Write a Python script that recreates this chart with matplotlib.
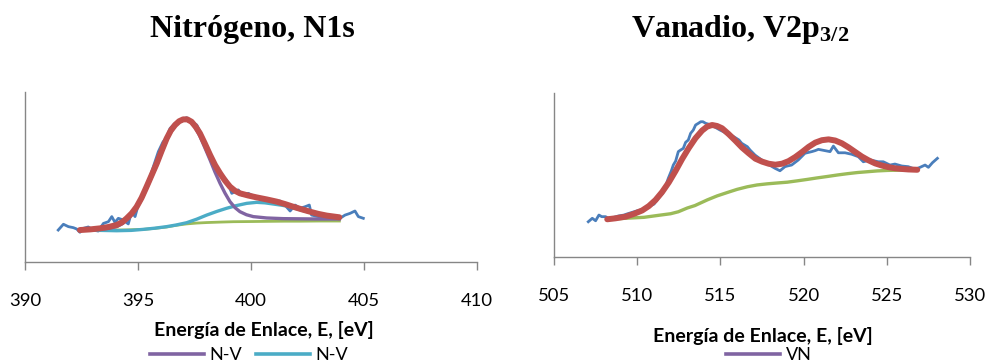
import matplotlib
matplotlib.use("Agg")
import matplotlib.pyplot as plt
from matplotlib.lines import Line2D

plt.rcParams["font.family"] = ["Lato", "DejaVu Sans"]
plt.rcParams["mathtext.fontset"] = "custom"
plt.rcParams["mathtext.rm"] = "Liberation Serif"
plt.rcParams["mathtext.bf"] = "Liberation Serif:bold"

# ---------------- N1s spectrum (binding energy in eV, intensity a.u.) ----------------
n_raw_E = [391.47, 391.70, 391.92, 392.14, 392.29, 392.43, 392.58, 392.80, 393.02, 393.24,
           393.47, 393.69, 393.84, 393.98, 394.13, 394.35, 394.57, 394.72, 394.87, 395.01,
           395.23, 395.46, 395.68, 395.90, 396.10, 396.27, 396.42, 396.64, 396.93, 397.15,
           397.37, 397.60, 397.96, 398.33, 398.63, 398.92, 399.15, 399.44, 399.59, 399.88,
           400.18, 400.47, 400.84, 401.28, 401.50, 401.73, 401.95, 402.17, 402.39, 402.58,
           402.68, 402.98, 403.35, 403.64, 403.94, 404.16, 404.38, 404.60, 404.75, 404.97]
n_raw_I = [18.8, 22.2, 20.8, 20.2, 19.4, 17.5, 19.8, 20.6, 18.8, 18.2,
           22.7, 23.7, 26.7, 23.3, 25.7, 24.7, 22.4, 29.6, 26.7, 33.5,
           40.4, 47.2, 56.1, 64.9, 70.5, 73.5, 78.6, 81.6, 83.5, 84.9,
           82.5, 80.6, 70.8, 60.0, 52.2, 48.2, 40.4, 42.4, 39.4, 40.4,
           38.4, 36.5, 35.5, 35.9, 33.5, 30.0, 33.5, 31.6, 32.5, 33.5,
           27.6, 26.7, 26.7, 24.7, 25.7, 27.6, 28.6, 30.0, 26.7, 25.7]

n_fit_E = [392.43, 392.90, 393.32, 393.70, 394.06, 394.30, 394.50, 394.72, 394.94, 395.16,
           395.38, 395.60, 395.83, 396.05, 396.27, 396.45, 396.64, 396.82, 397.00, 397.18,
           397.37, 397.55, 397.74, 397.96, 398.19, 398.41, 398.63, 398.85, 399.07, 399.29,
           399.51, 399.88, 400.25, 400.70, 401.14, 401.50, 401.87, 402.24, 402.61, 402.98,
           403.35, 403.91]
n_fit_I = [18.8, 19.2, 19.8, 20.6, 21.8, 23.4, 25.7, 28.6, 32.5, 37.8,
           44.3, 51.0, 58.0, 65.5, 72.7, 77.3, 80.6, 82.8, 83.9, 83.9,
           82.5, 79.6, 75.7, 69.6, 62.9, 57.0, 52.2, 47.9, 44.3, 41.9,
           40.4, 39.1, 38.0, 36.8, 35.5, 34.1, 32.5, 31.0, 29.6, 28.3,
           27.3, 26.3]

n_comp1_E = [392.43, 393.32, 393.70, 394.06, 394.30, 394.50, 394.72, 394.94, 395.16, 395.38,
             395.60, 395.83, 396.05, 396.27, 396.45, 396.64, 396.82, 397.00, 397.18, 397.37,
             397.55, 397.74, 397.96, 398.19, 398.41, 398.63, 398.85, 399.07, 399.29, 399.51,
             399.80, 400.10, 400.69, 401.43, 402.90, 403.91]
n_comp1_I = [18.8, 19.2, 19.8, 20.8, 22.5, 24.7, 27.8, 31.6, 37.0, 43.3,
             50.0, 57.0, 64.5, 71.7, 76.3, 80.0, 82.3, 83.5, 83.4, 82.0,
             78.6, 74.0, 67.2, 60.0, 52.8, 46.3, 40.5, 35.5, 32.0, 29.6,
             27.8, 26.7, 25.9, 25.5, 25.3, 25.3]

n_comp2_E = [392.43, 393.30, 394.06, 394.70, 395.24, 395.75, 396.27, 396.70, 397.15, 397.60,
             398.04, 398.50, 398.92, 399.36, 399.81, 400.25, 400.62, 400.99, 401.36, 401.73,
             402.20, 402.61, 402.98, 403.35, 403.91]
n_comp2_I = [18.8, 18.6, 18.4, 18.6, 19.2, 19.9, 20.8, 21.8, 23.1, 25.2,
             27.6, 29.8, 31.6, 33.2, 34.5, 35.1, 34.8, 34.1, 33.4, 32.5,
             30.6, 29.2, 28.0, 27.0, 26.0]

n_bg_E = [392.43, 393.50, 394.50, 395.24, 395.75, 396.27, 396.70, 397.15, 397.60, 398.04,
          398.70, 399.22, 400.00, 400.69, 401.50, 402.17, 403.00, 403.91]
n_bg_I = [18.8, 18.8, 18.9, 19.2, 19.8, 20.6, 21.6, 22.4, 22.9, 23.2,
          23.5, 23.7, 23.8, 23.9, 24.0, 24.0, 24.1, 24.1]

# ---------------- V2p3/2 spectrum ----------------
v_raw_E = [507.06, 507.30, 507.50, 507.70, 507.87, 508.10, 508.26, 508.61, 508.86, 509.21,
           509.37, 509.81, 510.10, 510.41, 510.87, 511.01, 511.27, 511.51, 511.70, 511.87,
           512.05, 512.17, 512.31, 512.47, 512.61, 512.77, 512.91, 513.07, 513.21, 513.37,
           513.51, 513.67, 513.82, 513.95, 514.12, 514.33, 514.62, 514.98, 515.22, 515.48,
           515.62, 516.12, 516.28, 516.62, 516.78, 517.08, 517.48, 517.88, 518.28, 518.58,
           518.88, 519.02, 519.28, 519.68, 520.08, 520.49, 520.69, 520.89, 521.29, 521.59,
           521.79, 522.09, 522.49, 522.89, 523.29, 523.59, 524.00, 524.49, 524.79, 525.19,
           525.49, 525.90, 526.29, 526.70, 527.00, 527.30, 527.50, 527.74, 528.04]
v_raw_I = [21.4, 23.5, 22.0, 25.5, 24.5, 24.5, 23.5, 24.1, 24.9, 25.5,
           26.1, 27.5, 28.4, 28.9, 31.6, 32.2, 35.7, 38.5, 43.0, 48.0,
           52.5, 56.1, 58.5, 64.3, 65.3, 66.3, 70.0, 71.4, 75.5, 77.5,
           80.6, 81.6, 82.6, 82.6, 81.6, 81.0, 79.6, 77.5, 76.3, 74.5,
           74.6, 71.4, 69.4, 67.3, 65.3, 62.2, 59.2, 56.5, 54.1, 52.6,
           55.1, 55.5, 56.1, 59.2, 63.3, 64.3, 64.9, 65.7, 64.9, 64.3,
           67.7, 63.6, 63.6, 62.7, 61.2, 58.1, 59.2, 58.1, 58.1, 56.1,
           56.7, 55.5, 55.1, 53.5, 54.7, 56.1, 54.7, 57.5, 60.2]

v_fit_E = [508.2, 508.7, 509.3, 509.8, 510.3, 510.7, 511.1, 511.5, 511.9, 512.3,
           512.7, 513.1, 513.5, 513.9, 514.2, 514.5, 514.8, 515.1, 515.5, 515.9,
           516.3, 516.7, 517.1, 517.5, 517.9, 518.3, 518.7, 519.1, 519.5, 519.9,
           520.3, 520.7, 521.1, 521.5, 521.9, 522.3, 522.7, 523.1, 523.5, 523.9,
           524.3, 524.7, 525.1, 525.5, 525.9, 526.3, 526.83]
v_fit_I = [22.9, 23.5, 24.5, 26.2, 28.3, 31.0, 34.7, 39.6, 45.5, 52.4,
           59.8, 66.5, 72.5, 77.2, 79.6, 80.6, 80.0, 78.6, 75.0, 71.0,
           66.8, 63.3, 60.0, 58.2, 56.9, 56.3, 56.9, 58.5, 61.0, 64.0,
           67.2, 69.8, 71.3, 71.8, 71.1, 69.4, 66.9, 64.1, 61.3, 59.0,
           57.1, 55.8, 54.8, 54.1, 53.7, 53.4, 53.2]

v_bg_E = [508.2, 509.27, 510.41, 511.27, 512.01, 512.47, 513.01, 513.47, 513.77, 514.22,
          514.80, 515.42, 516.00, 516.62, 517.20, 517.82, 518.40, 519.02, 519.60, 520.22,
          520.80, 521.43, 522.03, 522.63, 523.23, 523.83, 524.43, 525.03, 525.90, 526.83]
v_bg_I = [22.9, 23.5, 24.1, 25.3, 26.3, 27.5, 29.8, 31.3, 32.7, 34.8,
          37.2, 39.3, 41.2, 42.8, 43.9, 44.6, 45.1, 45.6, 46.4, 47.3,
          48.2, 49.1, 50.0, 50.8, 51.5, 52.0, 52.5, 52.8, 53.0, 53.1]

n_ticks = [390, 395, 400, 405, 410]
v_ticks = [505, 510, 515, 520, 525, 530]
xlabel = "Energía de Enlace, E, [eV]"

C_RAW = "#4A7EBB"
C_FIT = "#C0504D"
C_BG = "#9BBB59"
C_P1 = "#8064A2"
C_P2 = "#4BACC6"
C_AX = "#868686"

W, H = 988, 362
fig = plt.figure(figsize=(W / 100, H / 100), dpi=100)


def frac(x0, y0, x1, y1):
    return [x0 / W, 1 - y1 / H, (x1 - x0) / W, (y1 - y0) / H]


def style(ax, ticks):
    ax.set_ylim(0, 100)
    ax.set_xlim(ticks[0], ticks[-1])
    ax.set_xticks(ticks)
    ax.set_yticks([])
    for s in ("top", "right"):
        ax.spines[s].set_visible(False)
    for s in ("left", "bottom"):
        ax.spines[s].set_color(C_AX)
        ax.spines[s].set_linewidth(1.0)
    ax.tick_params(axis="x", direction="out", length=5.5, width=1.0, color=C_AX,
                   pad=17, labelsize=13.3, labelcolor="black")
    ax.patch.set_alpha(0)


axL = fig.add_axes(frac(25, 92, 477, 262))
style(axL, n_ticks)
axL.plot(n_raw_E, n_raw_I, color=C_RAW, lw=2.0, zorder=2)
axL.plot(n_bg_E, n_bg_I, color=C_BG, lw=2.0, zorder=3)
axL.plot(n_comp2_E, n_comp2_I, color=C_P2, lw=2.4, zorder=4)
axL.plot(n_comp1_E, n_comp1_I, color=C_P1, lw=2.4, zorder=5)
axL.plot(n_fit_E, n_fit_I, color=C_FIT, lw=4.3, zorder=6, solid_capstyle="round")
axL.set_xlabel(xlabel, fontsize=14, fontweight="bold")
axL.xaxis.set_label_coords(0.529, -0.345)

axR = fig.add_axes(frac(554, 93.3, 970, 256.7))
style(axR, v_ticks)
axR.plot(v_raw_E, v_raw_I, color=C_RAW, lw=2.0, zorder=2)
axR.plot(v_bg_E, v_bg_I, color=C_BG, lw=2.4, zorder=3)
axR.plot(v_fit_E, v_fit_I, color=C_P1, lw=2.4, zorder=4)
axR.plot(v_fit_E, v_fit_I, color=C_FIT, lw=4.3, zorder=6, solid_capstyle="round")
axR.set_xlabel(xlabel, fontsize=14, fontweight="bold")
axR.xaxis.set_label_coords(0.502, -0.43)

# Titles
fig.text(252 / W, 1 - 37 / H, "Nitrógeno, N1s", family="Liberation Serif",
         fontweight="bold", fontsize=23, ha="center", va="baseline")
fig.text(740 / W, 1 - 37 / H, r"Vanadio, V2p$\mathbf{_{3/2}}$", family="Liberation Serif",
         fontweight="bold", fontsize=23, ha="center", va="baseline")

# Legends
legL = [Line2D([], [], color=C_P1, lw=2.6), Line2D([], [], color=C_P2, lw=2.6)]
fig.legend(legL, ["N-V", "N-V"], loc="center", bbox_to_anchor=(249 / W, 1 - 355 / H),
           ncol=2, frameon=False, fontsize=13, handlelength=3.0, handletextpad=0.3,
           columnspacing=0.8, borderpad=0)
legR = [Line2D([], [], color=C_P1, lw=2.6)]
fig.legend(legR, ["VN"], loc="center", bbox_to_anchor=(769 / W, 1 - 355 / H),
           ncol=1, frameon=False, fontsize=13, handlelength=3.0, handletextpad=0.3,
           borderpad=0)

fig.savefig("out.png", dpi=100)
